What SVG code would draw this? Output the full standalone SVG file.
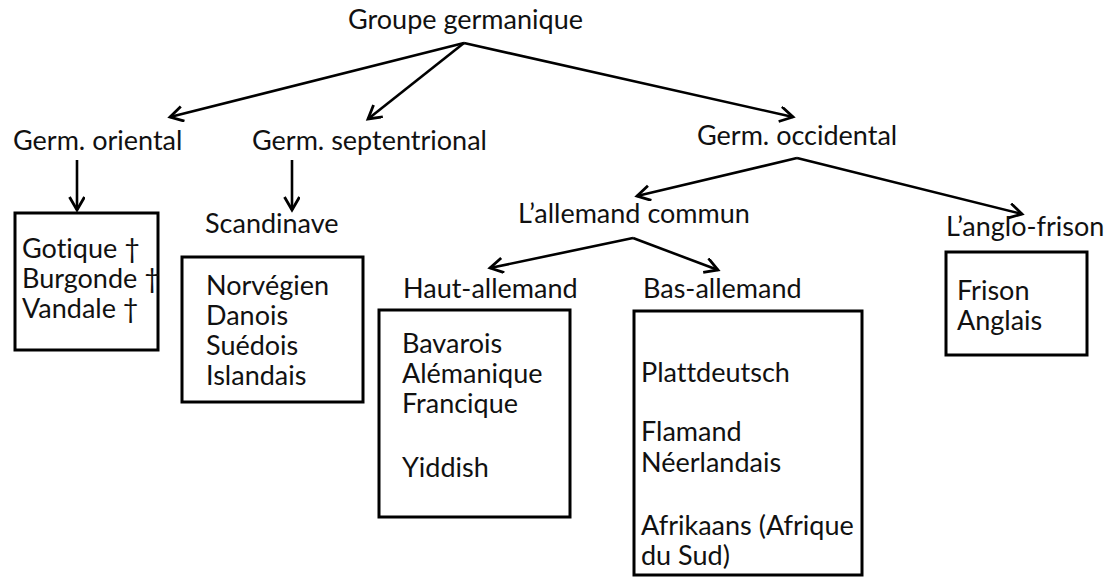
<svg xmlns="http://www.w3.org/2000/svg" width="1110" height="577" viewBox="0 0 1110 577">
<defs>
<style>
text{font-family:Lato,"Open Sans","Liberation Sans",sans-serif;font-size:27px;fill:#111;font-variant-ligatures:none}
.box{fill:#fff;stroke:#000;stroke-width:3}
.conn line{stroke:#000;stroke-width:2.6;marker-end:url(#arr)}
</style>
<marker id="arr" markerUnits="userSpaceOnUse" markerWidth="20" markerHeight="20" viewBox="0 0 20 20" refX="15" refY="8" orient="auto">
<path d="M2,0.5 L15,8 L2,15.5" fill="none" stroke="#000" stroke-width="2.8"/>
</marker>
</defs>
<rect width="1110" height="577" fill="#fff"/>
<g id="connectors" class="conn">
<line x1="464" y1="43" x2="170" y2="117"/>
<line x1="464" y1="43" x2="368" y2="119"/>
<line x1="464" y1="43" x2="793" y2="117"/>
<line x1="77" y1="160" x2="77" y2="210"/>
<line x1="292" y1="160" x2="292" y2="210"/>
<line x1="797" y1="158" x2="637" y2="196"/>
<line x1="797" y1="158" x2="1022" y2="214"/>
<line x1="633" y1="238" x2="490" y2="268"/>
<line x1="633" y1="238" x2="718" y2="270"/>
</g>
<g id="groupe-germanique"><text x="348" y="29">Groupe germanique</text></g>
<g id="germ-oriental"><text x="13" y="150">Germ. oriental</text></g>
<g id="germ-septentrional"><text x="252" y="150">Germ. septentrional</text></g>
<g id="germ-occidental"><text x="697" y="145">Germ. occidental</text></g>
<g id="scandinave"><text x="205" y="233">Scandinave</text></g>
<g id="allemand-commun"><text x="518" y="223">L’allemand commun</text></g>
<g id="anglo-frison"><text x="946" y="236">L’anglo-frison</text></g>
<g id="haut-allemand"><text x="403" y="298">Haut-allemand</text></g>
<g id="bas-allemand"><text x="643" y="298">Bas-allemand</text></g>
<g id="box-oriental">
<rect class="box" x="15" y="213" width="143" height="137"/>
<text x="22" y="258">Gotique †</text>
<text x="22" y="288">Burgonde †</text>
<text x="22" y="318">Vandale †</text>
</g>
<g id="box-scandinave">
<rect class="box" x="182" y="257" width="181" height="145"/>
<text x="206" y="295">Norvégien</text>
<text x="206" y="325">Danois</text>
<text x="206" y="355">Suédois</text>
<text x="206" y="385">Islandais</text>
</g>
<g id="box-haut">
<rect class="box" x="379" y="310" width="191" height="207"/>
<text x="402" y="353">Bavarois</text>
<text x="402" y="383">Alémanique</text>
<text x="402" y="413">Francique</text>
<text x="402" y="477">Yiddish</text>
</g>
<g id="box-bas">
<rect class="box" x="634" y="311" width="228" height="264"/>
<text x="641" y="382">Plattdeutsch</text>
<text x="641" y="441">Flamand</text>
<text x="641" y="472">Néerlandais</text>
<text x="641" y="535">Afrikaans (Afrique</text>
<text x="641" y="565">du Sud)</text>
</g>
<g id="box-anglo">
<rect class="box" x="946" y="252" width="141" height="103"/>
<text x="957" y="300">Frison</text>
<text x="957" y="330">Anglais</text>
</g>
</svg>
